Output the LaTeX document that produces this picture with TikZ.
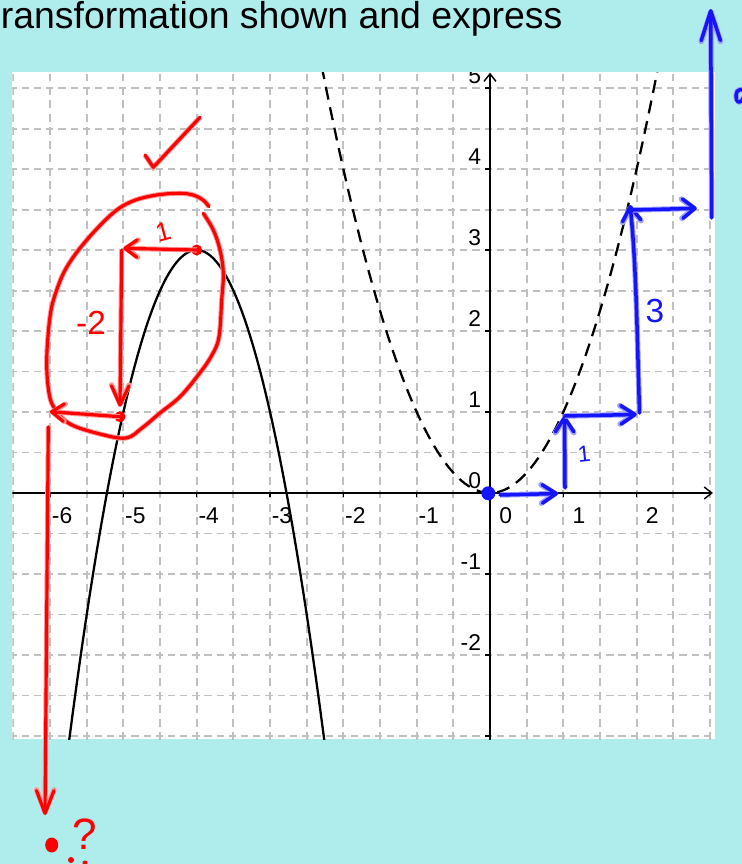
\documentclass[tikz,border=0pt]{standalone}
\usepackage{fontspec}
\setmainfont{Liberation Sans}
\usepackage{xcolor}
\definecolor{bgcyan}{RGB}{175,237,237}
\definecolor{penred}{RGB}{255,0,0}
\definecolor{penblue}{RGB}{20,20,255}
\definecolor{gridgray}{RGB}{192,192,192}
\usetikzlibrary{arrows.meta}

\begin{document}
\begin{tikzpicture}[x=0.02cm, y=-0.02cm]
  \tikzstyle{gridh}=[draw=gridgray, line width=1.1pt,
    dash pattern=on 4.1pt off 2.83pt, dash phase=2.05pt]
  \tikzstyle{gridv}=[draw=gridgray, line width=1.1pt,
    dash pattern=on 4.5pt off 3.15pt, dash phase=2.25pt]
  \tikzstyle{axisline}=[draw=black, line width=0.8pt]
  \tikzstyle{axisarr}=[axisline, -{Straight Barb[length=4.3pt, width=6.8pt]}]
  \tikzstyle{curvesolid}=[draw=black, line width=1.3pt]
  \tikzstyle{curvedash}=[draw=black, line width=1.3pt, dash pattern=on 7.4pt off 4.5pt]
  \tikzstyle{ticklab}=[inner sep=0pt, font=\fontsize{13}{15}\selectfont]
  \tikzstyle{redpen}=[draw=penred, line width=1.8pt, line cap=round, line join=round,
    preaction={draw=penred!40, line width=2.9pt}]
  \tikzstyle{bluepen}=[draw=penblue, line width=2pt, line cap=round, line join=round,
    preaction={draw=penblue!40, line width=3.1pt}]
  \tikzstyle{redarr}=[redpen, -{Straight Barb[length=7pt, width=10pt, round]}]
  \tikzstyle{bluearr}=[bluepen, -{Straight Barb[length=8pt, width=10.5pt, round]}]
  \tikzstyle{redtxt}=[inner sep=0pt, text=penred]
  \tikzstyle{bluetxt}=[inner sep=0pt, text=penblue]

  \useasboundingbox (0,0) rectangle (742,864);
  \fill[bgcyan] (0,0) rectangle (742,864);
  \fill[white] (12.3,72.3) rectangle (714.5,739.3);

  \node[anchor=base west, inner sep=0pt, font=\fontsize{21.3}{25}\selectfont] (title)
    at (0.5,28.5) {ransformation shown and express};

  % graph area
  \begin{scope}
    \clip (12.3,72.3) rectangle (714.5,739.3);
    \begin{scope}[shift={(490,493)}, x=1.4667cm, y=1.62cm]
      \foreach \gx in {-6.5,-6,...,3.1}
        \draw[gridv] (\gx,-3.5) -- (\gx,5.5);
      \foreach \gy in {-3,-2.5,...,5.1}
        \draw[gridh] (-7,\gy) -- (3.5,\gy);
      \draw[axisarr] (-6.6,0) -- (3.04,0);
      \draw[axisarr] (0,-3.1) -- (0,5.19);
      \foreach \tx in {-6,...,2}
        \draw[axisline] (\tx,0) -- ++(0pt,-2.2pt);
      \foreach \ty in {-3,...,5}
        \draw[axisline] (0,\ty) -- ++(-2.8pt,0pt);
      % tick labels
      \foreach \tx in {-6,...,-1}
        \node[ticklab, anchor=base west, xshift=0.85pt, yshift=-17.2pt] (xl\tx) at (\tx,0) {\tx};
      \foreach \tx in {0,1,2}
        \node[ticklab, anchor=base west, xshift=5.1pt, yshift=-17.2pt] (xl\tx) at (\tx,0) {\tx};
      \foreach \ty in {-2,...,5}
        \node[ticklab, anchor=base east, xshift=-4.9pt, yshift=2.4pt] (yl\ty) at (0,\ty) {\ty};
      % curves
      \draw[curvedash] plot[domain=-2.35:2.35, samples=90] (\x,{\x*\x});
      \draw[curvesolid] plot[domain=-5.76:-2.24, samples=90] (\x,{-2*(\x+4)*(\x+4)+3});
    \end{scope}
  \end{scope}

  % red working
  \coordinate (vtx) at (196.7,250);
  \coordinate (r1) at (123.3,248.3);
  \coordinate (r2) at (120,406.7);
  \coordinate (rdot) at (120,416.7);
  \coordinate (r3) at (50,411.7);
  \coordinate (r4s) at (48.3,426.7);
  \coordinate (r4) at (45,815);
  \draw[redpen] (145,155) -- (153.3,167.3) -- (200,117.3);
  \draw[redpen] plot[smooth, tension=0.6] coordinates {(203.3,213.3) (213.3,230) (220,250)
    (223.3,273.3) (221.7,300) (219,336.7) (212,355) (199,374) (180,396.7) (160,413)
    (142,428) (126,438) (100,434) (70,424) (55,409) (49,393) (46.7,360) (50,316.7)
    (56,292) (67,266.7) (86.7,240) (113,213) (133,201) (156.7,195) (180,193.3)
    (193,195) (203,200) (209,206.7)};
  \fill[penred] (vtx) circle (5.5);
  \fill[penred] (rdot) circle (5.5);
  \draw[redarr] (vtx) -- (r1);
  \draw[redarr, -{Straight Barb[length=11pt, width=10pt, round]}] (121.7,250) -- (r2);
  \draw[redarr] (rdot) -- (r3);
  \draw[redarr, -{Straight Barb[length=13pt, width=10pt, round]}] (r4s) -- (r4);
  \node[redtxt, rotate=15, font=\fontsize{15}{17}\selectfont] (rlab1) at (163,232) {1};
  \node[redtxt, font=\fontsize{19}{21}\selectfont] (rlab2) at (91,323) {-2};
  \fill[penred] (51.7,845) ellipse (6.5 and 7.5);
  \node[redtxt, font=\fontsize{25}{27}\selectfont] (rq) at (85,834) {?};
  \fill[penred] (71,860) circle (3);
  \fill[penred] (85,863) circle (2.5);

  % blue working
  \coordinate (bo) at (488.3,493.3);
  \coordinate (b1) at (558,493.5);
  \coordinate (b2s) at (565,488);
  \coordinate (b2) at (564.5,416);
  \coordinate (b3) at (636.7,414.5);
  \coordinate (b4s) at (639.5,413);
  \coordinate (b4) at (630,205);
  \coordinate (b5s) at (633,210);
  \coordinate (b5) at (696.7,208.3);
  \coordinate (b6s) at (711.7,218);
  \coordinate (b6) at (710.7,9);
  \fill[penblue] (bo) circle (7);
  \draw[bluearr] (500,495) -- (b1);
  \draw[bluearr] (b2s) -- (b2);
  \draw[bluearr] (b2) -- (b3);
  \draw[bluearr] (b4s) .. controls (637,330) and (636,260) .. (b4);
  \draw[bluearr, -{Straight Barb[length=7pt, width=11pt, round]}] (b5s) -- (b5);
  \draw[bluearr, -{Straight Barb[length=17pt, width=11pt, round]}] (b6s) -- (b6);
  \node[bluetxt, rotate=6, font=\fontsize{13}{15}\selectfont] (blab1) at (584,454) {1};
  \node[bluetxt, font=\fontsize{19}{21}\selectfont] (blab3) at (655,311) {3};
  \draw[bluepen] (737,101) .. controls (734,92) and (738,88) .. (744,90);
  \draw[bluepen] (737,101) .. controls (740,104) and (743,100) .. (744,96);
\end{tikzpicture}
\end{document}
